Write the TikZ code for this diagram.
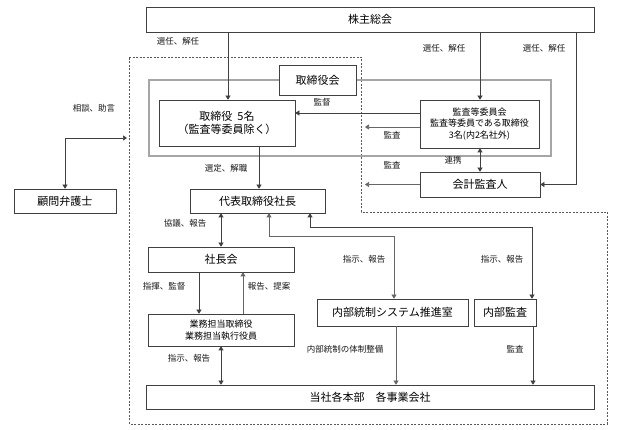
\documentclass[tikz,border=0pt]{standalone}
\usepackage{fontspec}
\setmainfont{Noto Sans CJK JP}
\usetikzlibrary{arrows.meta}

\tikzset{
	box/.style={draw=black!75, fill=white, line width=0.6pt, inner sep=0pt, align=center, font=\fontsize{11}{13}\selectfont},
	smallbox/.style={box, font=\fontsize{9}{11.5}\selectfont},
	lbl/.style={inner sep=0pt, font=\fontsize{8.5}{9}\selectfont, text=black!90},
	arr/.style={draw=black!75, line width=0.6pt, -{Triangle[length=4pt,width=5pt]}},
	darr/.style={draw=black!75, line width=0.6pt, {Triangle[length=4pt,width=5pt]}-{Triangle[length=4pt,width=5pt]}},
	garr/.style={arr, draw=black!60}
}

\begin{document}
\begin{tikzpicture}[x=1pt, y=-1pt]
			%%%%% START %%%%%
			\useasboundingbox (0,0) rectangle (625,430);
			
			% executive area and board frame
			\draw[black!65, line width=0.6pt, dash pattern=on 2pt off 1.5pt] (129,57) -- (361,57) -- (361,212) -- (607,212) -- (607,424) -- (129,424) -- cycle;
			\draw[draw=black!65, double=black!35, double distance=1.2pt, line width=0.8pt] (149,80) rectangle (551,156);
			
			\node[box, minimum width=448pt, minimum height=25pt] (soukai) at (370,19.5) {株主総会};
			\node[box, minimum width=77pt, minimum height=30pt] (torikai) at (317.5,80) {取締役会};
			\node[box, minimum width=136pt, minimum height=46pt] (tori5) at (227,123) {取締役\ \ 5名\\（監査等委員除く）};
			\node[smallbox, minimum width=119pt, minimum height=48pt] (kansa) at (479.5,124) {監査等委員会\\監査等委員である取締役\\3名(内2名社外)};
			\node[box, minimum width=120pt, minimum height=25pt] (kaikei) at (480,184.5) {会計監査人};
			\node[box, minimum width=102pt, minimum height=24pt] (komon) at (65,201) {顧問弁護士};
			\node[box, minimum width=135pt, minimum height=24pt] (shacho) at (257.5,201) {代表取締役社長};
			\node[box, minimum width=146pt, minimum height=25pt] (shachokai) at (221,259.5) {社長会};
			\node[smallbox, minimum width=146pt, minimum height=32pt] (gyomu) at (221,330) {業務担当取締役\\業務担当執行役員};
			\node[box, minimum width=151pt, minimum height=27pt] (naitousei) at (392.5,312.5) {内部統制システム推進室};
			\node[box, minimum width=62pt, minimum height=27pt] (naibu) at (505,312.5) {内部監査};
			\node[box, minimum width=448pt, minimum height=24pt] (kakubu) at (370,397) {当社各本部\quad 各事業会社};
			
			\coordinate (kansaL) at (365,127);
			\coordinate (kaikeiL) at (365,184.5);
			\coordinate (komonR) at (127,138);
			\coordinate (bendA) at (394,236);
			\coordinate (bendB) at (532,227);
			
			% shareholders
			\draw[arr] (soukai.south -| 228,0) -- (tori5.north -| 228,0);
			\node[lbl] (l1) at (178,41) {選任、解任};
			\draw[arr] (soukai.south -| 480,0) -- (kansa.north -| 480,0);
			\node[lbl] (l2) at (444,48) {選任、解任};
			\draw[arr] (soukai.south -| 576,0) |- (kaikei.east);
			\node[lbl] (l3) at (544,48) {選任、解任};
			
			% audit
			\draw[arr] (kansa.west |- 0,113) -- (tori5.east |- 0,113);
			\node[lbl] (l4) at (322,102) {監督};
			\draw[garr] (kansa.west |- kansaL) -- (kansaL);
			\node[lbl] (l5) at (392,135) {監査};
			\draw[garr] (kaikei.west) -- (kaikeiL);
			\node[lbl] (l6) at (392,165) {監査};
			\draw[darr] (kansa.south -| 480,0) -- (kaikei.north -| 480,0);
			\node[lbl] (l7) at (453,160) {連携};
			
			% lawyer
			\draw[darr] (komon.north) |- (komonR);
			\node[lbl] (l8) at (94,108) {相談、助言};
			
			% executive
			\draw[arr] (tori5.south -| 259,0) -- (shacho.north -| 259,0);
			\node[lbl] (l9) at (226,168) {選定、解職};
			\draw[darr] (shacho.south -| 221,0) -- (shachokai.north -| 221,0);
			\node[lbl] (l10) at (185,223) {協議、報告};
			\draw[darr, draw=black!60] (shacho.south -| 269,0) |- (bendA) -- (naitousei.north -| bendA);
			\node[lbl] (l11) at (364,259) {指示、報告};
			\draw[darr] (shacho.south -| 310,0) |- (bendB) -- (naibu.north -| bendB);
			\node[lbl] (l12) at (502,259) {指示、報告};
			\draw[arr] (shachokai.south -| 199,0) -- (gyomu.north -| 199,0);
			\node[lbl] (l13) at (164,286) {指揮、監督};
			\draw[garr] (gyomu.north -| 243,0) -- (shachokai.south -| 243,0);
			\node[lbl] (l14) at (269,286) {報告、提案};
			\draw[darr] (gyomu.south -| 221,0) -- (kakubu.north -| 221,0);
			\node[lbl] (l15) at (189,358) {指示、報告};
			\draw[garr] (naitousei.south -| 396,0) -- (kakubu.north -| 396,0);
			\node[lbl] (l16) at (345,349) {内部統制の体制整備};
			\draw[arr] (naibu.south -| 533,0) -- (kakubu.north -| 533,0);
			\node[lbl] (l17) at (515,349) {監査};
			
			%%%%% END %%%%%
\end{tikzpicture}
\end{document}
